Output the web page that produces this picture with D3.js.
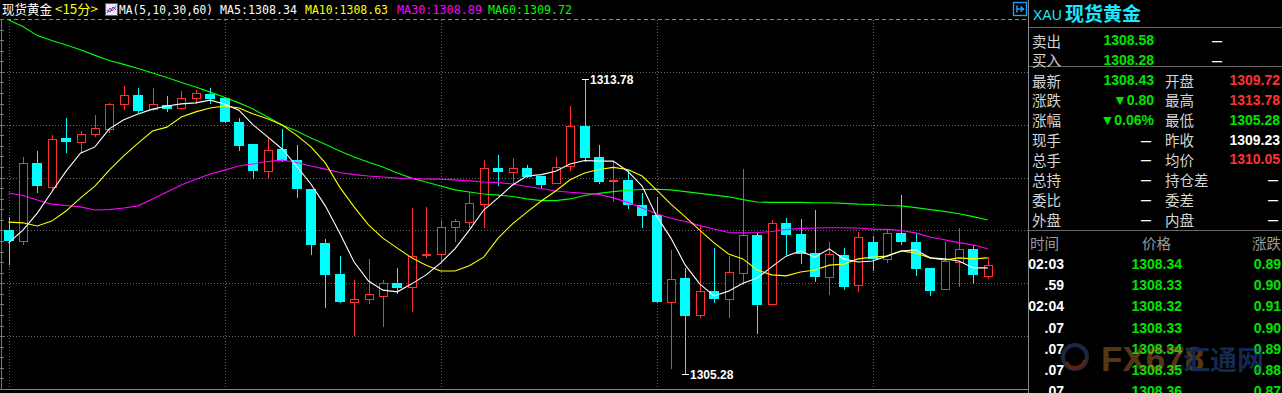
<!DOCTYPE html>
<html>
<head>
<meta charset="utf-8">
<script src="https://cdn.jsdelivr.net/npm/d3@7"></script>
<style>
  html, body { margin: 0; padding: 0; background: #000; overflow: hidden; }
  svg { display: block; }
</style>
</head>
<body>
<div id="chart"></div>
<script>
// 15 minute candles, XAU
var opens = [1309.43,1309.12,1311.37,1310.67,1312.09,1311.97,1312.20,1312.35,1313.07,1313.33,
  1312.92,1313.04,1312.95,1313.24,1313.36,1313.24,1312.55,1311.91,1311.13,1311.77,
  1311.45,1310.62,1309.06,1308.16,1307.36,1307.44,1307.53,1307.90,1307.79,1308.71,
  1308.74,1309.52,1309.66,1310.18,1311.22,1311.11,1311.22,1310.99,1310.79,1311.28,
  1312.43,1311.54,1310.85,1310.88,1310.15,1309.87,1307.36,1308.05,1306.98,1307.67,
  1307.44,1308.19,1309.29,1307.30,1309.64,1309.32,1308.77,1308.08,1308.71,1307.85,
  1309.09,1308.60,1309.35,1309.09,1308.34,1307.73,1308.51,1308.89,1308.11];
var highs = [1309.81,1311.54,1311.71,1312.17,1312.66,1312.29,1312.75,1313.10,1313.59,1313.53,
  1313.53,1313.30,1313.44,1313.47,1313.53,1313.26,1312.66,1311.91,1312.09,1312.35,
  1311.89,1310.62,1309.17,1308.68,1307.99,1308.60,1307.99,1308.34,1310.07,1310.10,
  1309.72,1309.75,1310.53,1311.45,1311.60,1311.51,1311.31,1310.99,1311.54,1313.01,
  1313.78,1311.89,1311.39,1311.16,1310.50,1310.39,1308.86,1308.34,1309.55,1308.91,
  1308.68,1311.19,1309.35,1309.72,1309.78,1309.75,1310.01,1309.09,1308.91,1309.38,
  1309.26,1309.43,1310.44,1309.35,1308.34,1309.09,1309.49,1309.00,1308.65];
var lows = [1308.45,1309.03,1310.53,1310.59,1311.68,1311.68,1312.14,1312.26,1312.92,1312.84,
  1312.89,1312.87,1312.95,1313.10,1313.10,1312.55,1311.74,1310.93,1310.96,1311.42,
  1310.39,1308.74,1307.21,1307.36,1306.40,1307.33,1306.66,1307.62,1307.10,1308.65,
  1308.54,1309.12,1309.52,1309.52,1310.73,1310.79,1310.96,1310.67,1310.79,1311.16,
  1311.42,1310.79,1310.27,1310.07,1309.52,1307.36,1305.45,1305.28,1306.92,1307.36,
  1306.92,1307.88,1306.46,1307.30,1308.74,1308.48,1307.96,1307.59,1307.73,1307.67,
  1308.28,1308.51,1309.03,1308.14,1307.56,1307.73,1307.82,1307.90,1308.05];
var closes = [1309.12,1311.37,1310.70,1312.06,1311.97,1312.20,1312.38,1313.07,1313.33,1312.87,
  1313.07,1312.92,1313.24,1313.39,1313.21,1312.55,1311.86,1311.13,1311.74,1311.42,
  1310.62,1309.00,1308.14,1307.36,1307.44,1307.59,1307.90,1307.76,1308.68,1308.74,
  1309.52,1309.69,1310.21,1311.22,1311.11,1311.22,1310.96,1310.73,1311.25,1312.43,
  1311.51,1310.82,1310.88,1310.15,1309.84,1307.36,1308.02,1306.95,1307.67,1307.44,
  1308.22,1309.29,1307.27,1309.64,1309.29,1308.74,1308.08,1308.74,1307.79,1309.23,
  1308.60,1309.35,1309.09,1308.31,1307.67,1308.54,1308.89,1308.14,1308.43];

var ma5 = [1309.06,1309.43,1309.92,1310.53,1311.13,1311.65,1311.83,1312.35,1312.61,1312.78,
  1312.92,1313.01,1313.07,1313.10,1313.18,1313.07,1312.89,1312.46,1312.12,1311.77,
  1311.28,1310.76,1310.13,1309.35,1308.51,1307.96,1307.70,1307.65,1307.88,1308.14,
  1308.48,1308.89,1309.43,1310.01,1310.36,1310.73,1310.99,1311.03,1311.13,1311.34,
  1311.44,1311.42,1311.42,1311.13,1310.70,1309.84,1309.20,1308.42,1307.88,1307.53,
  1307.67,1307.90,1308.05,1308.37,1308.68,1308.83,1308.65,1308.89,1308.60,1308.51,
  1308.54,1308.68,1308.83,1308.86,1308.63,1308.60,1308.54,1308.34,1308.34];
var ma10 = [1309.66,1309.64,1309.55,1309.69,1309.98,1310.36,1310.70,1311.16,1311.57,1311.94,
  1312.29,1312.40,1312.69,1312.84,1312.95,1313.01,1312.95,1312.78,1312.64,1312.46,
  1312.17,1311.83,1311.37,1310.67,1310.10,1309.58,1309.20,1308.91,1308.63,1308.42,
  1308.25,1308.25,1308.40,1308.65,1309.20,1309.61,1309.95,1310.27,1310.56,1310.88,
  1311.08,1311.18,1311.24,1311.18,1310.99,1310.59,1310.18,1309.81,1309.43,1309.06,
  1308.74,1308.60,1308.28,1308.14,1308.11,1308.22,1308.28,1308.42,1308.45,1308.60,
  1308.65,1308.68,1308.83,1308.77,1308.63,1308.57,1308.63,1308.60,1308.63];
var ma30 = [1310.50,1310.43,1310.30,1310.18,1310.14,1310.10,1310.01,1310.02,1310.07,1310.13,
  1310.33,1310.53,1310.73,1310.90,1311.05,1311.16,1311.28,1311.34,1311.41,1311.45,
  1311.38,1311.28,1311.19,1311.09,1311.03,1310.99,1310.96,1310.93,1310.92,1310.90,
  1310.90,1310.88,1310.85,1310.82,1310.80,1310.76,1310.69,1310.63,1310.56,1310.52,
  1310.49,1310.46,1310.36,1310.23,1310.07,1309.90,1309.77,1309.68,1309.56,1309.46,
  1309.36,1309.35,1309.36,1309.39,1309.45,1309.48,1309.49,1309.50,1309.50,1309.49,
  1309.46,1309.45,1309.42,1309.35,1309.23,1309.15,1309.07,1309.00,1308.89];
var ma60 = [1315.49,1315.30,1315.04,1314.90,1314.77,1314.63,1314.47,1314.32,1314.21,1314.09,
  1313.96,1313.83,1313.69,1313.56,1313.41,1313.26,1313.10,1312.92,1312.69,1312.46,
  1312.29,1312.09,1311.91,1311.71,1311.54,1311.39,1311.25,1311.08,1310.93,1310.82,
  1310.70,1310.59,1310.53,1310.47,1310.44,1310.40,1310.33,1310.28,1310.28,1310.33,
  1310.43,1310.49,1310.54,1310.58,1310.60,1310.61,1310.59,1310.54,1310.49,1310.44,
  1310.39,1310.31,1310.24,1310.23,1310.23,1310.23,1310.22,1310.22,1310.20,1310.18,
  1310.17,1310.14,1310.13,1310.08,1310.02,1309.97,1309.90,1309.82,1309.72];

// candle indexes where the vertical time lines sit
var timeLines = [0, 15, 30, 45, 60];

// right quote panel
var prevClose = 1309.23;
var bookLabels = ["卖出", "买入"];
var bookPrices = ["1308.58", "1308.28"];
var leftLabels = ["最新", "涨跌", "涨幅", "现手", "总手", "总持", "委比", "外盘"];
var leftValues = ["1308.43", "▼0.80", "▼0.06%", "—", "—", "—", "—", "—"];
var rightLabels = ["开盘", "最高", "最低", "昨收", "均价", "持仓差", "委差", "内盘"];
var rightValues = ["1309.72", "1313.78", "1305.28", "1309.23", "1310.05", "—", "—", "—"];
var tickTimes = ["02:03", ".59", "02:04", ".07", ".07", ".07", ".07"];
var tickPrices = ["1308.34", "1308.33", "1308.32", "1308.33", "1308.34", "1308.35", "1308.36"];
var tickChanges = ["0.89", "0.90", "0.91", "0.90", "0.89", "0.88", "0.87"];

var W = 1282, H = 393,
    plotTop = 19, plotBottom = 389, plotRight = 1028,
    RED = '#ff3232', CYAN = '#00ffff', GREEN = '#00e400',
    numFont = '"Liberation Sans", Arial, sans-serif',
    cnFont = '"Noto Sans CJK SC", sans-serif';

var svg = d3.select('#chart').append('svg')
    .attr('width', W)
    .attr('height', H)
    .style('background', '#000');

var x = d3.scaleLinear().domain([0, opens.length - 1]).range([8.5, 987.7]);
var y = d3.scaleLinear().domain([d3.min(lows), d3.max(highs)]).range([374, 79.3]);

// frame + grid
svg.append('line')
    .attr('x1', 0).attr('x2', plotRight).attr('y1', plotTop + 0.5).attr('y2', plotTop + 0.5)
    .style('stroke', '#888').style('stroke-dasharray', '4,3');
svg.append('line')
    .attr('x1', 0).attr('x2', plotRight).attr('y1', plotBottom + 0.5).attr('y2', plotBottom + 0.5)
    .style('stroke', '#888');
svg.append('line')
    .attr('x1', 1.5).attr('x2', 1.5).attr('y1', plotTop).attr('y2', plotBottom)
    .style('stroke', '#777');
for (var k = 0; k <= 35; k++) {
  var ty = Math.round(plotTop + k * (plotBottom - plotTop) / 35) + 0.5;
  svg.append('line')
      .attr('x1', 0).attr('x2', 4).attr('y1', ty).attr('y2', ty)
      .style('stroke', '#777');
}
for (var g = 1; g < 7; g++) {
  var gy = Math.round(plotTop + g * (plotBottom - plotTop) / 7) + 0.5;
  svg.append('line')
      .attr('x1', 4).attr('x2', plotRight).attr('y1', gy).attr('y2', gy)
      .style('stroke', '#666').style('stroke-dasharray', '1,2');
}
svg.selectAll('line.vgrid').data(timeLines).enter().append('line')
    .attr('class', 'vgrid')
    .attr('x1', function(d){ return Math.round(x(d)) + 0.5; })
    .attr('x2', function(d){ return Math.round(x(d)) + 0.5; })
    .attr('y1', plotTop + 1).attr('y2', plotBottom)
    .style('stroke', '#666').style('stroke-dasharray', '1,2');

// candles
var candles = opens.map(function(o, i){
  return { i: i, o: o, h: highs[i], l: lows[i], c: closes[i] };
});
var cx = function(d){ return Math.round(x(d.i)); };
var up = function(d){ return d.c >= d.o; };

svg.selectAll('line.wick').data(candles).enter().append('line')
    .attr('class', 'wick')
    .attr('x1', function(d){ return cx(d) + 0.5; })
    .attr('x2', function(d){ return cx(d) + 0.5; })
    .attr('y1', function(d){ return Math.round(y(d.h)); })
    .attr('y2', function(d){ return Math.round(y(d.l)) + 1; })
    .style('stroke', function(d){ return up(d) ? RED : CYAN; })
    .style('shape-rendering', 'crispEdges');

svg.selectAll('rect.body').data(candles).enter().append('rect')
    .attr('class', 'body')
    .attr('x', function(d){ return up(d) ? cx(d) - 3.5 : cx(d) - 5; })
    .attr('y', function(d){
      var t = Math.round(y(Math.max(d.o, d.c)));
      return up(d) ? t + 0.5 : t;
    })
    .attr('width', function(d){ return up(d) ? 8 : 10; })
    .attr('height', function(d){
      var h = Math.round(y(Math.min(d.o, d.c))) - Math.round(y(Math.max(d.o, d.c)));
      return up(d) ? Math.max(h, 0.01) : Math.max(h, 1);
    })
    .style('fill', function(d){ return up(d) ? '#000' : CYAN; })
    .style('stroke', function(d){ return up(d) ? RED : 'none'; })
    .style('stroke-width', 1)
    .style('shape-rendering', 'crispEdges');

// moving averages
var maLines = [
  { vals: ma60, color: '#00ff00' },
  { vals: ma30, color: '#ff00ff' },
  { vals: ma10, color: '#ffff00' },
  { vals: ma5, color: '#ffffff' }
];
var line = d3.line()
    .x(function(d, i){ return x(i); })
    .y(function(d){ return y(d); });
svg.selectAll('path.ma').data(maLines).enter().append('path')
    .attr('class', 'ma')
    .attr('d', function(d){ return line(d.vals); })
    .style('fill', 'none')
    .style('stroke', function(d){ return d.color; })
    .style('stroke-width', 1.1);

// high / low markers
var hiIdx = d3.maxIndex(highs), loIdx = d3.minIndex(lows);
[{ i: hiIdx, v: highs[hiIdx] }, { i: loIdx, v: lows[loIdx] }].forEach(function(m){
  var mx = Math.round(x(m.i)), my = Math.round(y(m.v)) + 0.5;
  svg.append('line')
      .attr('x1', mx - 3).attr('x2', mx + 4).attr('y1', my).attr('y2', my)
      .style('stroke', '#fff');
  svg.append('text')
      .attr('x', mx + 5).attr('y', my + 4.5)
      .attr('font-family', numFont).attr('font-size', 12).attr('font-weight', 'bold')
      .attr('fill', '#fff')
      .text(m.v.toFixed(2));
});

// legend line
var legend = [
  { t: '现货黄金', x: 2, w: 50, c: '#ffffff', cn: true },
  { t: '<15分>', x: 55, w: 43, c: '#ffff00', cn: true },
  { t: 'MA(5,10,30,60)', x: 119, w: 94, c: '#ffffff' },
  { t: 'MA5:' + ma5[ma5.length - 1].toFixed(2), x: 220, w: 77, c: '#ffffff' },
  { t: 'MA10:' + ma10[ma10.length - 1].toFixed(2), x: 305, w: 83, c: '#ffff00' },
  { t: 'MA30:' + ma30[ma30.length - 1].toFixed(2), x: 397, w: 85, c: '#ff00ff' },
  { t: 'MA60:' + ma60[ma60.length - 1].toFixed(2), x: 488, w: 84, c: '#00ff00' }
];
svg.selectAll('text.legend').data(legend).enter().append('text')
    .attr('class', 'legend')
    .attr('x', function(d){ return d.x; })
    .attr('y', 14)
    .attr('textLength', function(d){ return d.w; })
    .attr('lengthAdjust', 'spacingAndGlyphs')
    .attr('font-family', function(d){ return d.cn ? cnFont : '"DejaVu Sans Mono", monospace'; })
    .attr('font-size', function(d){ return d.cn ? 13 : 13; })
    .attr('fill', function(d){ return d.c; })
    .text(function(d){ return d.t; });

// small ma icon
var icon = svg.append('g').attr('transform', 'translate(105,3)');
icon.append('rect').attr('x', 0.5).attr('y', 0.5).attr('width', 12).attr('height', 12)
    .style('fill', '#e8eaff').style('stroke', '#3a4cff');
icon.append('polyline').attr('points', '2,10 5,5 7,8 11,3')
    .style('fill', 'none').style('stroke', '#ff2020');
icon.append('polyline').attr('points', '2,7 5,9 8,4 11,7')
    .style('fill', 'none').style('stroke', '#2040ff');

// exit icon top right
var ex = svg.append('g').attr('transform', 'translate(1013,2)');
ex.append('rect').attr('x', 0.5).attr('y', 0.5).attr('width', 13).attr('height', 13)
    .style('fill', 'none').style('stroke', '#1ea0ff').style('stroke-width', 1.3);
ex.append('path').attr('d', 'M4,3.5 V10.5 M4,7 H10 M7.5,4.5 L10.5,7 L7.5,9.5')
    .style('fill', 'none').style('stroke', '#1ea0ff').style('stroke-width', 1.5);

// right panel
var px = plotRight + 0.5;
svg.append('line').attr('x1', px).attr('x2', px).attr('y1', 0).attr('y2', H)
    .style('stroke', '#888');
[27.5, 66.5, 230.5].forEach(function(ly){
  svg.append('line').attr('x1', px).attr('x2', W).attr('y1', ly).attr('y2', ly)
      .style('stroke', '#666');
});

svg.append('text')
    .attr('x', 1033).attr('y', 20)
    .attr('font-family', numFont).attr('font-size', 14).attr('fill', '#1ee6ff')
    .text('XAU');
svg.append('text')
    .attr('x', 1065).attr('y', 21)
    .attr('font-family', cnFont).attr('font-size', 19).attr('font-weight', 'bold')
    .attr('fill', '#1ee6ff')
    .text('现货黄金');

function colorOf(v) {
  if (v.charAt(0) === '▼') return GREEN;
  var n = parseFloat(v);
  if (isNaN(n)) return '#fff';
  return n > prevClose ? RED : (n < prevClose ? GREEN : '#fff');
}
function label(t, lx, ly, color) {
  svg.append('text').attr('x', lx).attr('y', ly)
      .attr('font-family', cnFont).attr('font-size', 14.5)
      .attr('dominant-baseline', 'central')
      .attr('fill', color || '#d4d4d4').text(t);
}
function value(t, rx, ly, color) {
  var dash = t === '—';
  svg.append('text').attr('x', rx).attr('y', ly + 5)
      .attr('text-anchor', 'end')
      .attr('font-family', numFont).attr('font-size', dash ? 10 : 14).attr('font-weight', 'bold')
      .attr('fill', color).text(t);
}

bookLabels.forEach(function(t, i){
  var ry = 40 + i * 19.5;
  label(t, 1032, ry);
  value(bookPrices[i], 1154, ry, GREEN);
  value('—', 1222, ry, '#fff');
});
leftLabels.forEach(function(t, i){
  var ry = 80 + i * 19.86;
  label(t, 1032, ry);
  var lv = leftValues[i];
  value(lv, lv === '—' ? 1151 : 1154, ry, colorOf(lv));
  label(rightLabels[i], 1165, ry);
  var rv = rightValues[i];
  value(rv, rv === '—' ? 1278 : 1280, ry, colorOf(rv));
});

label('时间', 1030, 242, '#9a9a9a');
label('价格', 1142, 242, '#9a9a9a');
label('涨跌', 1252, 242, '#9a9a9a');
tickTimes.forEach(function(t, i){
  var ry = 264 + i * 21.2;
  value(t, 1064, ry, '#fff');
  value(tickPrices[i], 1182, ry, GREEN);
  value(tickChanges[i], 1281, ry, GREEN);
});

// watermark
var wm = svg.append('g').style('opacity', 0.45);
wm.append('circle').attr('cx', 1075).attr('cy', 357).attr('r', 12)
    .style('fill', 'none').style('stroke', '#3a5a9a').style('stroke-width', 4);
wm.append('path').attr('d', 'M1066,362 A10,10 0 0 0 1085,360')
    .style('fill', 'none').style('stroke', '#c8502a').style('stroke-width', 4);
wm.append('text').attr('x', 1101).attr('y', 371)
    .attr('font-family', numFont).attr('font-size', 35).attr('font-weight', 'bold')
    .attr('fill', '#b8782a').text('FX678');
wm.append('text').attr('x', 1183).attr('y', 370)
    .attr('font-family', cnFont).attr('font-size', 27).attr('font-weight', 'bold')
    .attr('fill', '#2a5cb0').text('汇通网');
</script>
</body>
</html>
